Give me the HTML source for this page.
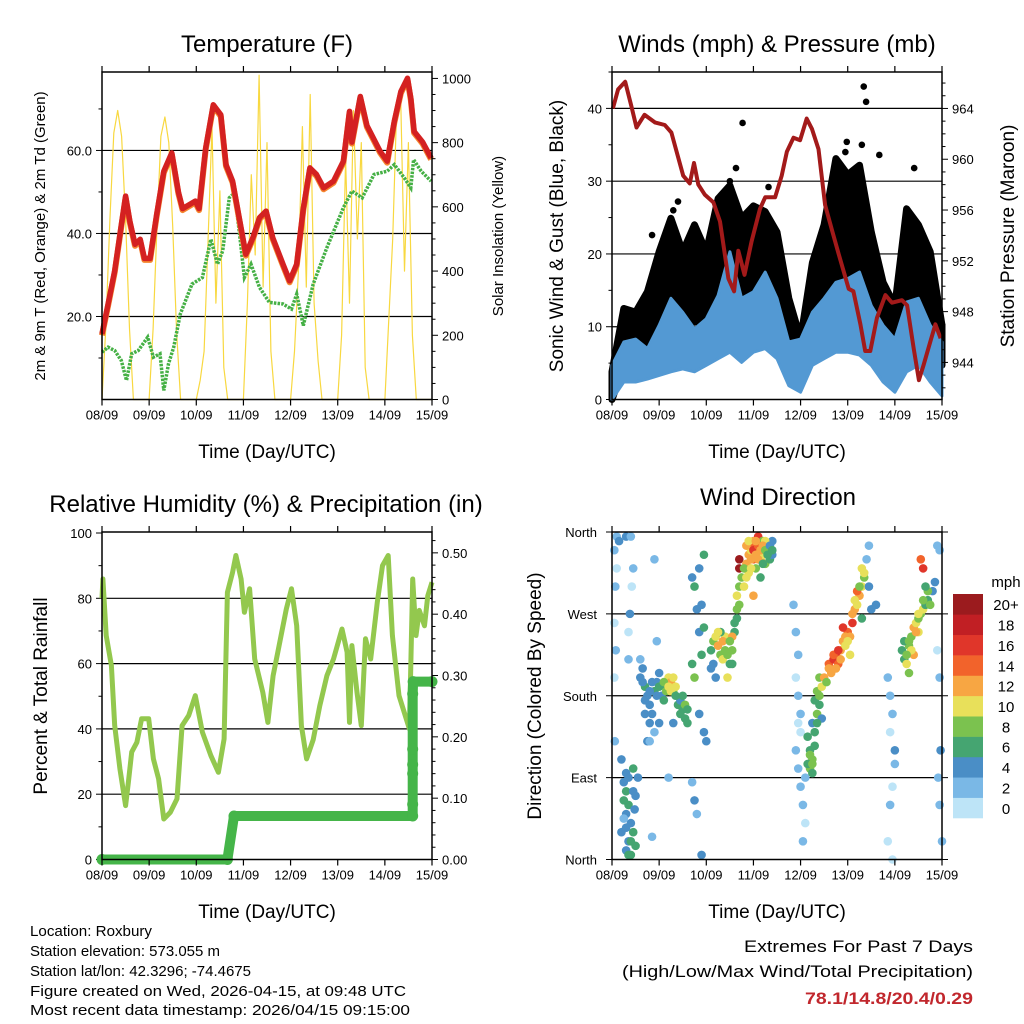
<!DOCTYPE html>
<html><head><meta charset="utf-8">
<style>
html,body{margin:0;padding:0;background:#fff;}
svg{display:block;font-family:"Liberation Sans",Arial,sans-serif;}
</style></head>
<body>
<svg id="fig" width="1024" height="1024" viewBox="0 0 1024 1024" xmlns="http://www.w3.org/2000/svg">
<g id="layer"></g>
<text x="267" y="52" font-size="24" text-anchor="middle">Temperature (F)</text>
<text x="777" y="52" font-size="24" text-anchor="middle">Winds (mph) &amp; Pressure (mb)</text>
<text x="266" y="512" font-size="24" text-anchor="middle">Relative Humidity (%) &amp; Precipitation (in)</text>
<text x="778" y="505" font-size="24" text-anchor="middle">Wind Direction</text>
<text x="267" y="458" font-size="19" text-anchor="middle">Time (Day/UTC)</text>
<text x="777" y="458" font-size="19" text-anchor="middle">Time (Day/UTC)</text>
<text x="267" y="918" font-size="19" text-anchor="middle">Time (Day/UTC)</text>
<text x="777" y="918" font-size="19" text-anchor="middle">Time (Day/UTC)</text>
<text transform="translate(45,236) rotate(-90)" font-size="15" text-anchor="middle">2m &amp; 9m T (Red, Orange) &amp; 2m Td (Green)</text>
<text transform="translate(503,236) rotate(-90)" font-size="15" text-anchor="middle">Solar Insolation (Yellow)</text>
<text transform="translate(563,236) rotate(-90)" font-size="19" text-anchor="middle">Sonic Wind &amp; Gust (Blue, Black)</text>
<text transform="translate(1014,236) rotate(-90)" font-size="19" text-anchor="middle">Station Pressure (Maroon)</text>
<text transform="translate(47,696) rotate(-90)" font-size="19" text-anchor="middle">Percent &amp; Total Rainfall</text>
<text transform="translate(541,696) rotate(-90)" font-size="19" text-anchor="middle">Direction (Colored By Speed)</text>
<g font-size="14.5">
<text x="30" y="936" textLength="122" lengthAdjust="spacingAndGlyphs">Location: Roxbury</text>
<text x="30" y="956" textLength="190" lengthAdjust="spacingAndGlyphs">Station elevation: 573.055 m</text>
<text x="30" y="976" textLength="221" lengthAdjust="spacingAndGlyphs">Station lat/lon: 42.3296; -74.4675</text>
<text x="30" y="996" textLength="376" lengthAdjust="spacingAndGlyphs">Figure created on Wed, 2026-04-15, at 09:48 UTC</text>
<text x="30" y="1015" textLength="380" lengthAdjust="spacingAndGlyphs">Most recent data timestamp: 2026/04/15 09:15:00</text>
</g>
<text x="973" y="952" font-size="17" text-anchor="end" textLength="229" lengthAdjust="spacingAndGlyphs">Extremes For Past 7 Days</text>
<text x="973" y="977" font-size="17" text-anchor="end" textLength="351" lengthAdjust="spacingAndGlyphs">(High/Low/Max Wind/Total Precipitation)</text>
<text x="973" y="1004" font-size="17" font-weight="bold" fill="#c1272d" text-anchor="end" textLength="168" lengthAdjust="spacingAndGlyphs">78.1/14.8/20.4/0.29</text>
</svg>
<script>
// ---------- DATA ----------
const dayLabels = ["08/09","09/09","10/09","11/09","12/09","13/09","14/09","15/09"];
// Temperature (F)
const tempDays = [0,0.13,0.27,0.41,0.5,0.59,0.7,0.81,0.9,1.02,1.16,1.31,1.48,1.62,1.71,1.98,2.06,2.2,2.36,2.52,2.63,2.77,2.91,3.05,3.2,3.34,3.48,3.62,3.84,3.98,4.13,4.27,4.41,4.55,4.7,4.91,5.12,5.25,5.3,5.48,5.62,5.9,6.05,6.2,6.34,6.48,6.55,6.62,6.8,6.98];
const tempVals = [15.8,23,31,42,49,43,37.4,38.6,34,34,44.6,55,59.4,50,46,47.8,46,60.6,71,68.6,56.6,52.6,43.8,35,39,43.8,45.4,39,32.6,28.6,32.6,46,55.8,54.2,51,52.6,57.4,69.4,62,73,66,59.8,57.4,67,74.2,77.4,72.6,64.6,62,58.2];
const dewDays = [0,0.13,0.27,0.41,0.52,0.63,0.77,0.97,1.09,1.23,1.31,1.41,1.52,1.66,1.91,2.13,2.31,2.45,2.56,2.7,2.81,2.91,3.02,3.16,3.34,3.55,3.84,4.02,4.13,4.27,4.48,4.77,5.12,5.3,5.52,5.77,6.05,6.2,6.41,6.55,6.61,6.77,6.98];
const dewVals = [11.4,12.6,11.8,9.4,4.6,11,11.8,15,10.2,11,2.2,8.6,12.6,20.6,27.8,29.4,38.6,32.6,35.8,48.6,49.8,40.6,29.4,32.6,27,23.4,23,21.8,25.4,17.8,27.8,36.6,46.2,50.2,48.6,54.2,55,56.6,53.4,51,57.8,55,52.6];
// Solar insolation, 2-hourly (W/m2)
const solarVals = [
 0,230,560,830,900,820,560,220,0,0,0,0,
 0,220,540,820,880,800,540,210,0,0,0,0,
 0,60,150,500,850,300,650,100,0,0,0,0,
 0,300,700,450,1010,350,800,150,0,0,0,0,
 0,150,400,850,350,950,300,120,0,0,0,0,
 0,200,750,300,900,500,800,100,0,0,0,0,
 0,250,500,900,950,400,800,200,0,0,0,0, 0];
// Winds (mph), 6-hourly envelopes
const windDays = [0,0.25,0.5,0.75,1,1.25,1.5,1.75,2,2.25,2.5,2.75,3,3.25,3.5,3.75,4,4.25,4.5,4.75,5,5.25,5.5,5.75,6,6.25,6.5,6.75,7];
const windHi = [4.7,7.9,8.3,7,10.2,13.9,12,9.7,11.1,14.3,20.3,13.9,14.8,17.5,13.9,7.9,8.3,12,13.9,16.1,16.6,17.5,12.9,10.2,8.3,13.4,13.9,10.2,7.9];
const windLo = [0,2.4,2.4,2.8,3.3,3.8,4.2,3.8,4.7,5.6,6.5,5.1,6.5,7,5.6,1.9,1,4.7,5.6,6.5,6.5,6.1,4.7,2.4,1,3.8,4.7,2.4,0.5];
const gustHi = [3.8,12.5,12,14.8,20.3,24.9,20.3,24,20.3,27.6,29.4,24.9,26.6,25.8,23,13.9,8.3,18.8,24,33.1,30.9,32.2,23,16.1,12.9,26.2,24,20.3,10.2];
const gustLo = [0,4.7,5.6,7,9.3,11.1,9.7,10.7,10.2,12,13.9,13,13.9,13,10.2,4.7,3.3,9.3,13,16.1,14.8,17.5,9.3,5.6,3.8,13.9,13.9,9.3,4.7];
const gustOutDays = [5.34,5.39,2.77,0.85,1.4,3.32,4.98,5.67,6.41,2.63,4.95,5.3,2.5,1.3];
const gustOutVals = [43,40.9,38,22.6,27.2,29.2,35.4,33.6,31.8,31.8,34,35,30,26];
// Pressure (mb)
const presDays = [0.02,0.13,0.28,0.41,0.52,0.69,0.91,1.12,1.26,1.37,1.51,1.65,1.74,1.83,1.97,2.15,2.29,2.47,2.59,2.68,2.81,2.96,3.14,3.25,3.46,3.6,3.71,3.85,3.99,4.13,4.24,4.38,4.52,4.66,4.81,5.02,5.12,5.27,5.37,5.48,5.62,5.8,5.94,6.15,6.26,6.4,6.51,6.61,6.75,6.86,6.97];
const presVals = [964,965.5,966.1,964.2,962.5,963.5,962.9,962.7,962.1,960.6,958.7,958.1,959.7,958,957.2,956.6,955.1,950.6,949.6,952.8,950.9,953.5,956.1,957,957,958.7,960.6,961.7,961.5,963.2,962.4,960.8,956.4,954.5,952.5,949.8,949.6,947,944.9,944.9,947.5,949.3,948.7,948.9,948.5,945.1,942.6,943.8,945.6,947,945.9];
// Relative humidity (%)
const rhDays = [0,0.02,0.09,0.2,0.27,0.38,0.5,0.56,0.63,0.74,0.84,0.99,1.09,1.2,1.31,1.45,1.59,1.7,1.84,1.98,2.13,2.31,2.47,2.59,2.66,2.77,2.84,2.95,3.02,3.13,3.24,3.41,3.52,3.63,3.73,3.91,4.02,4.13,4.23,4.34,4.48,4.62,4.77,4.91,5.09,5.2,5.25,5.3,5.41,5.5,5.59,5.7,5.84,5.95,6.07,6.16,6.3,6.41,6.52,6.59,6.66,6.73,6.84,6.91,7];
const rhVals = [80,85.9,68.6,59.4,41,27.8,16.5,23.7,32.9,35.9,43.1,43.1,30.8,24.7,12.4,14.5,18.6,41,44.1,50.2,39,31.8,26.7,36.9,81.8,88,93.1,85.9,75.7,82.9,61.4,51.2,42,56.3,63.5,76.7,82.9,71.6,41,30.8,36.7,47.1,56.3,61.4,70.6,63.5,42,65.5,51.2,41,67.6,61.4,78.8,90,93.1,68.6,50.2,45.1,40,85.9,68.6,76.3,71.6,80.8,84.9];
// Precipitation (in), cumulative
const precDays = [0,2.66,2.8,6.59,6.59,6.59,6.59,6.59,6.59,6.6,7];
const precVals = [0,0,0.071,0.071,0.09,0.14,0.155,0.18,0.27,0.29,0.29];
// Wind direction samples: day, degrees, speed (mph)
const dirDays = [0.1,0.15,0.05,0.1,0.07,0.05,0.08,0.05,0.06,0.3,0.4,0.45,0.42,0.38,0.35,0.35,
 0.25,0.3,0.35,0.3,0.4,0.45,0.35,0.3,0.4,0.5,0.55,0.45,0.2,0.25,0.48,0.2,0.5,
 0.6,0.65,0.7,0.75,0.8,0.85,0.9,0.95,1.0,1.05,1.1,1.15,1.2,1.25,1.3,1.35,1.4,1.45,1.5,1.55,1.6,1.0,0.9,0.75,1.3,0.6,0.95,0.8,0.9,1.2,0.85,
 1.7,1.75,1.8,1.85,1.9,1.7,1.75,1.85,1.95,2.0,1.7,1.75,1.8,1.9,1.85,1.95,1.9,1.95,
 2.1,2.15,2.2,2.25,2.3,2.35,2.4,2.45,2.5,2.55,2.6,2.65,2.7,2.1,2.2,2.3,2.45,2.55,2.65,2.7,
 2.7,2.7,2.75,2.8,2.85,2.9,2.95,3.0,3.05,3.1,3.15,3.2,3.25,3.3,3.35,3.4,2.9,3.0,3.1,3.2,3.05,3.15,3.0,3.4,3.3,2.95,3.25,
 3.85,3.9,3.95,3.9,3.95,4.0,4.0,3.9,3.95,4.0,4.05,4.1,4.05,3.95,4.1,
 4.15,4.2,4.25,4.2,4.25,4.15,4.3,4.35,4.4,4.35,4.45,4.4,4.3,4.25,4.45,
 4.5,4.6,4.7,4.75,4.8,4.85,4.9,4.95,5.0,5.05,5.1,5.15,5.2,5.25,5.3,5.35,4.9,5.05,4.65,5.2,5.3,5.35,
 5.4,5.45,5.5,5.45,5.6,
 5.85,5.9,5.95,5.9,6.0,6.0,5.95,5.9,5.85,5.95,
 6.15,6.2,6.25,6.3,6.35,6.4,6.45,6.5,6.55,6.6,6.65,6.7,6.8,6.85,6.4,6.3,6.6,6.55,6.2,6.75,6.5,
 6.95,6.9,6.95,6.97,6.95,6.92,7.0,6.9,
 2.85,2.9,2.95,3.0,3.05,3.1,3.15,3.2,3.25,3.3,2.8,2.85,2.95,3.05,3.1,3.2,3.35,3.4,
 0.65,0.7,0.8,0.85,0.95,1.0,1.1,1.15,1.2,1.25,1.3,1.35,1.45,1.5,1.55,1.6,0.7,0.8,
 2.15,2.25,2.35,2.4,2.5,2.6,2.65,2.55,
 4.55,4.6,4.7,4.8,4.85,4.95,5.0,5.1,5.15,5.25,5.3,4.75,
 0.25,0.3,0.35,0.4,0.45,0.3,0.35,
 4.2,4.25,4.3,4.35,4.4,
 6.3,6.35,6.45,6.5,6.6,6.7,6.65,6.25];
const dirDegs = [355,350,340,320,300,260,230,200,130,355,355,320,300,270,250,220,
 85,75,60,50,40,30,20,10,5,70,90,100,110,45,55,30,15,
 200,210,190,180,170,160,185,195,205,180,175,190,200,195,185,190,170,175,165,155,150,150,140,130,150,220,240,130,330,90,25,
 310,300,275,250,225,215,200,160,140,130,85,65,50,5,320,335,280,255,
 230,240,245,235,225,220,245,225,215,230,250,265,280,210,200,250,200,245,290,300,
 330,320,310,300,325,335,340,330,345,340,330,335,325,340,330,335,315,350,355,350,320,310,290,350,345,345,350,
 280,250,225,200,180,160,140,120,100,80,60,40,20,150,90,
 135,120,110,100,95,105,140,160,170,185,190,200,175,150,155,
 200,215,220,225,215,230,240,235,250,245,260,275,280,290,300,310,255,225,205,295,265,315,
 330,300,275,345,280,
 200,180,160,140,120,105,80,60,20,0,
 230,220,215,235,245,255,260,265,270,275,280,285,295,305,225,205,320,330,240,280,250,
 340,230,200,120,60,90,20,345,
 345,350,330,340,335,345,340,345,340,335,320,310,320,350,330,325,345,340,
 195,175,185,195,180,190,195,185,190,185,200,180,160,180,170,165,160,150,
 215,250,240,230,240,260,275,215,
 195,210,225,230,220,245,240,270,285,300,320,210,
 65,35,90,20,75,95,5,
 115,105,125,150,180,
 240,230,250,270,285,295,300,225];
const dirSpeeds = [3,4,3,1,2,1,2,1,2,4,3,2,1,4,1,2,
 5,7,6,5,4,6,5,4,7,4,5,6,5,3,5,4,6,
 4,5,6,4,4,5,6,5,4,5,7,6,10,12,9,11,7,4,6,7,6,4,3,4,5,3,2,3,2,2,3,
 5,6,4,4,6,7,8,4,4,4,3,4,2,4,5,6,5,7,
 6,8,10,12,8,10,11,9,6,8,6,7,9,4,5,6,10,12,10,8,
 20,20,8,10,12,12,11,14,15,14,12,10,9,7,6,4,10,12,16,9,8,6,13,4,6,14,11,
 2,2,3,1,3,2,1,2,3,2,2,1,3,1,2,
 6,7,8,9,7,6,7,8,6,8,10,9,6,5,5,
 12,14,16,16,14,12,13,11,14,12,17,12,10,12,10,8,16,11,12,14,7,11,
 3,4,4,2,4,
 2,3,2,1,4,2,1,2,1,1,
 6,7,10,9,8,12,10,9,8,10,7,6,5,4,13,8,16,14,6,8,11,
 3,1,2,4,3,2,2,2,
 12,11,13,16,12,15,13,12,8,7,9,10,11,13,12,6,5,6,
 4,4,5,4,5,7,8,9,11,10,10,7,6,7,8,7,4,4,
 5,10,12,9,8,7,8,7,
 9,12,15,16,12,12,10,12,10,9,10,13,
 6,5,5,6,5,4,6,
 8,9,7,7,9,
 9,10,12,10,9,8,7,8];
const cbLabels = ["0","2","4","6","8","10","12","14","16","18","20+"];
const cbColors = ["#bde4f7","#7ab8e6","#4a8ec6","#45a571","#7bc24f","#e8e05a","#f7a643","#f2632b","#e0362a","#c11f24","#9b1b1e"];

// ---------- HELPERS ----------
const NS = "http://www.w3.org/2000/svg";
const layer = document.getElementById('layer');
function mk(tag, attrs, parent){
  const e = document.createElementNS(NS, tag);
  for (const k in attrs) e.setAttribute(k, attrs[k]);
  (parent||layer).appendChild(e);
  return e;
}
function lin(d0,d1,r0,r1){ return v => r0 + (v-d0)/(d1-d0)*(r1-r0); }
function poly(xs, ys, fx, fy){ return xs.map((d,i)=>fx(d).toFixed(1)+","+fy(ys[i]).toFixed(1)).join(" "); }

const PT=72, PB=399.5, QT=532, QB=859.5;
const xL = lin(0,7,102,432), xR = lin(0,7,612,942);

function frame(L,R,T,B,name){
  const r = mk('rect',{x:L,y:T,width:R-L,height:B-T,fill:'none',stroke:'#000','stroke-width':1.5});
  
  
}
function xTicks(L,fx,T,B,name){
  const g = mk('g',{});
  
  
  dayLabels.forEach((lab,i)=>{
    const x = fx(i);
    mk('line',{x1:x,x2:x,y1:T,y2:T-6,stroke:'#000','stroke-width':1.2},g);
    mk('line',{x1:x,x2:x,y1:B,y2:B+6,stroke:'#000','stroke-width':1.2},g);
    const t = mk('text',{x:x,y:B+20,'font-size':13,'text-anchor':'middle'},g);
    t.textContent = lab;
    
    
  });
}
function yTicks(x, side, fy, vmin, vmax, major, minor, fmt, gridL, gridR, name, grid){
  const g = mk('g',{});
  
  
  const dir = side==='left' ? -1 : 1;
  const n = Math.round((vmax-vmin)/minor);
  for (let i=0;i<=n;i++){
    const v = vmin + i*minor;
    const y = fy(v);
    const isMaj = Math.abs(v/major - Math.round(v/major)) < 1e-6;
    mk('line',{x1:x,x2:x+dir*(isMaj?6:3.5),y1:y,y2:y,stroke:'#000','stroke-width':1},g);
    if (isMaj){
      const t = mk('text',{x:x+dir*10,y:y+5,'font-size':13,'text-anchor':side==='left'?'end':'start'},g);
      t.textContent = fmt(v);
      
      
      if (grid && y>PT+2 && !(y>PB-2 && y<QT+2) && y<QB-2 && v!==vmin){
        const gl = mk('line',{x1:gridL,x2:gridR,y1:y,y2:y,stroke:'#000','stroke-width':1.2});
        
        
      }
    }
  }
}

// ---------- PANEL 1: Temperature ----------
const yT = lin(0,78.9,PB,PT), yS = lin(0,1020,PB,PT);
yTicks(102,'left',yT,10,70,20,10,v=>v.toFixed(1),102,432,'temp-y-axis',true);
const solarDays = solarVals.map((v,i)=>i/12);
const sol = mk('polyline',{points:poly(solarDays,solarVals,xL,yS),fill:'none',stroke:'#f8d840','stroke-width':1.2,'stroke-linejoin':'round'});


const dew = mk('polyline',{points:poly(dewDays,dewVals,xL,yT),fill:'none',stroke:'#45b045','stroke-width':3.5,'stroke-dasharray':'2.5 1.2'});


const t9 = mk('polyline',{points:poly(tempDays,tempVals,xL,yT),fill:'none',stroke:'#f5862f','stroke-width':6,'stroke-linejoin':'round',transform:'translate(0,1.5)'});


const t2 = mk('polyline',{points:poly(tempDays,tempVals,xL,yT),fill:'none',stroke:'#d42121','stroke-width':5.5,'stroke-linejoin':'round'});


yTicks(432,'right',yS,0,1000,200,50,v=>String(v),0,0,'solar-y-axis',false);
frame(102,432,PT,PB,'temperature');
xTicks(102,xL,PT,PB,'temperature');

// ---------- PANEL 2: Winds ----------
const yW = lin(0,45,PB,PT), yP = lin(941.08,966.87,PB,PT);
yTicks(612,'left',yW,0,45,10,5,v=>String(v),612,942,'wind-y-axis',true);
const gustPts = poly(windDays,gustHi,xR,yW)+" "+poly(windDays.slice().reverse(),gustLo.slice().reverse(),xR,yW);
const gp = mk('polygon',{points:gustPts,fill:'#000',stroke:'#000','stroke-width':7,'stroke-linejoin':'round'});


gustOutDays.forEach((d,i)=>{
  const c = mk('circle',{cx:xR(d),cy:yW(gustOutVals[i]),r:3.3,fill:'#000'});
  
  
});
const windPts = poly(windDays,windHi,xR,yW)+" "+poly(windDays.slice().reverse(),windLo.slice().reverse(),xR,yW);
const wp = mk('polygon',{points:windPts,fill:'#5399d3',stroke:'#5399d3','stroke-width':3,'stroke-linejoin':'round'});


const pr = mk('polyline',{points:poly(presDays,presVals,xR,yP),fill:'none',stroke:'#a31a1a','stroke-width':4,'stroke-linejoin':'round'});


yTicks(942,'right',yP,942,966,4,1,v=>(v%4===0?String(v):''),0,0,'pressure-y-axis',false);
frame(612,942,PT,PB,'winds');
xTicks(612,xR,PT,PB,'winds');

// ---------- PANEL 3: Humidity ----------
const yH = lin(0,100,QB,533), yR = lin(0,0.534,QB,QT);
yTicks(102,'left',yH,0,100,20,10,v=>String(v),102,432,'humidity-y-axis',true);
const rh = mk('polyline',{points:poly(rhDays,rhVals,xL,yH),fill:'none',stroke:'#93c84e','stroke-width':5,'stroke-linejoin':'round'});


const pc = mk('polyline',{points:poly(precDays,precVals,xL,yR),fill:'none',stroke:'#45b549','stroke-width':10,'stroke-linejoin':'round','stroke-linecap':'round'});


precDays.forEach((d,i)=>{
  const c = mk('circle',{cx:xL(d),cy:yR(precVals[i]),r:5.5,fill:'#45b549'});
  
  
});
yTicks(432,'right',yR,0,0.52,0.1,0.02,v=>v.toFixed(2),0,0,'precip-y-axis',false);
frame(102,432,QT,QB,'humidity');
xTicks(102,xL,QT,QB,'humidity');

// ---------- PANEL 4: Wind direction ----------
const yD = lin(0,360,QB,QT);
const dirNames = ["North","East","South","West","North"];
const dg = mk('g',{});


dirNames.forEach((n,i)=>{
  const y = yD(i*90);
  mk('line',{x1:612,x2:606,y1:y,y2:y,stroke:'#000','stroke-width':1},dg);
  mk('line',{x1:942,x2:948,y1:y,y2:y,stroke:'#000','stroke-width':1},dg);
  const t = mk('text',{x:597,y:y+5,'font-size':13,'text-anchor':'end'},dg);
  t.textContent = n;
  
  
  if (i>0 && i<4){
    const gl = mk('line',{x1:612,x2:942,y1:y,y2:y,stroke:'#000','stroke-width':1.2});
    
    
  }
});
dirDays.forEach((d,i)=>{
  const s = dirSpeeds[i];
  const idx = Math.min(10, Math.floor(s/2));
  const c = mk('circle',{cx:xR(d),cy:yD(dirDegs[i]),r:4.3,fill:cbColors[idx]});
  
  
});
frame(612,942,QT,QB,'direction');
xTicks(612,xR,QT,QB,'direction');

// colorbar
const cb = mk('g',{});


const cbT = 594, cbH = 224/11;
cbColors.forEach((col,i)=>{
  const y = cbT + (10-i)*cbH;
  const r = mk('rect',{x:953,y:y,width:30,height:cbH+0.3,fill:col},cb);
  
  
  const t = mk('text',{x:1006,y:y+cbH/2+6,'font-size':15,'text-anchor':'middle'},cb);
  t.textContent = cbLabels[i];
  
  
});
const mph = mk('text',{x:1006,y:587,'font-size':15,'text-anchor':'middle'},cb);
mph.textContent = "mph";


</script>
</body></html>
